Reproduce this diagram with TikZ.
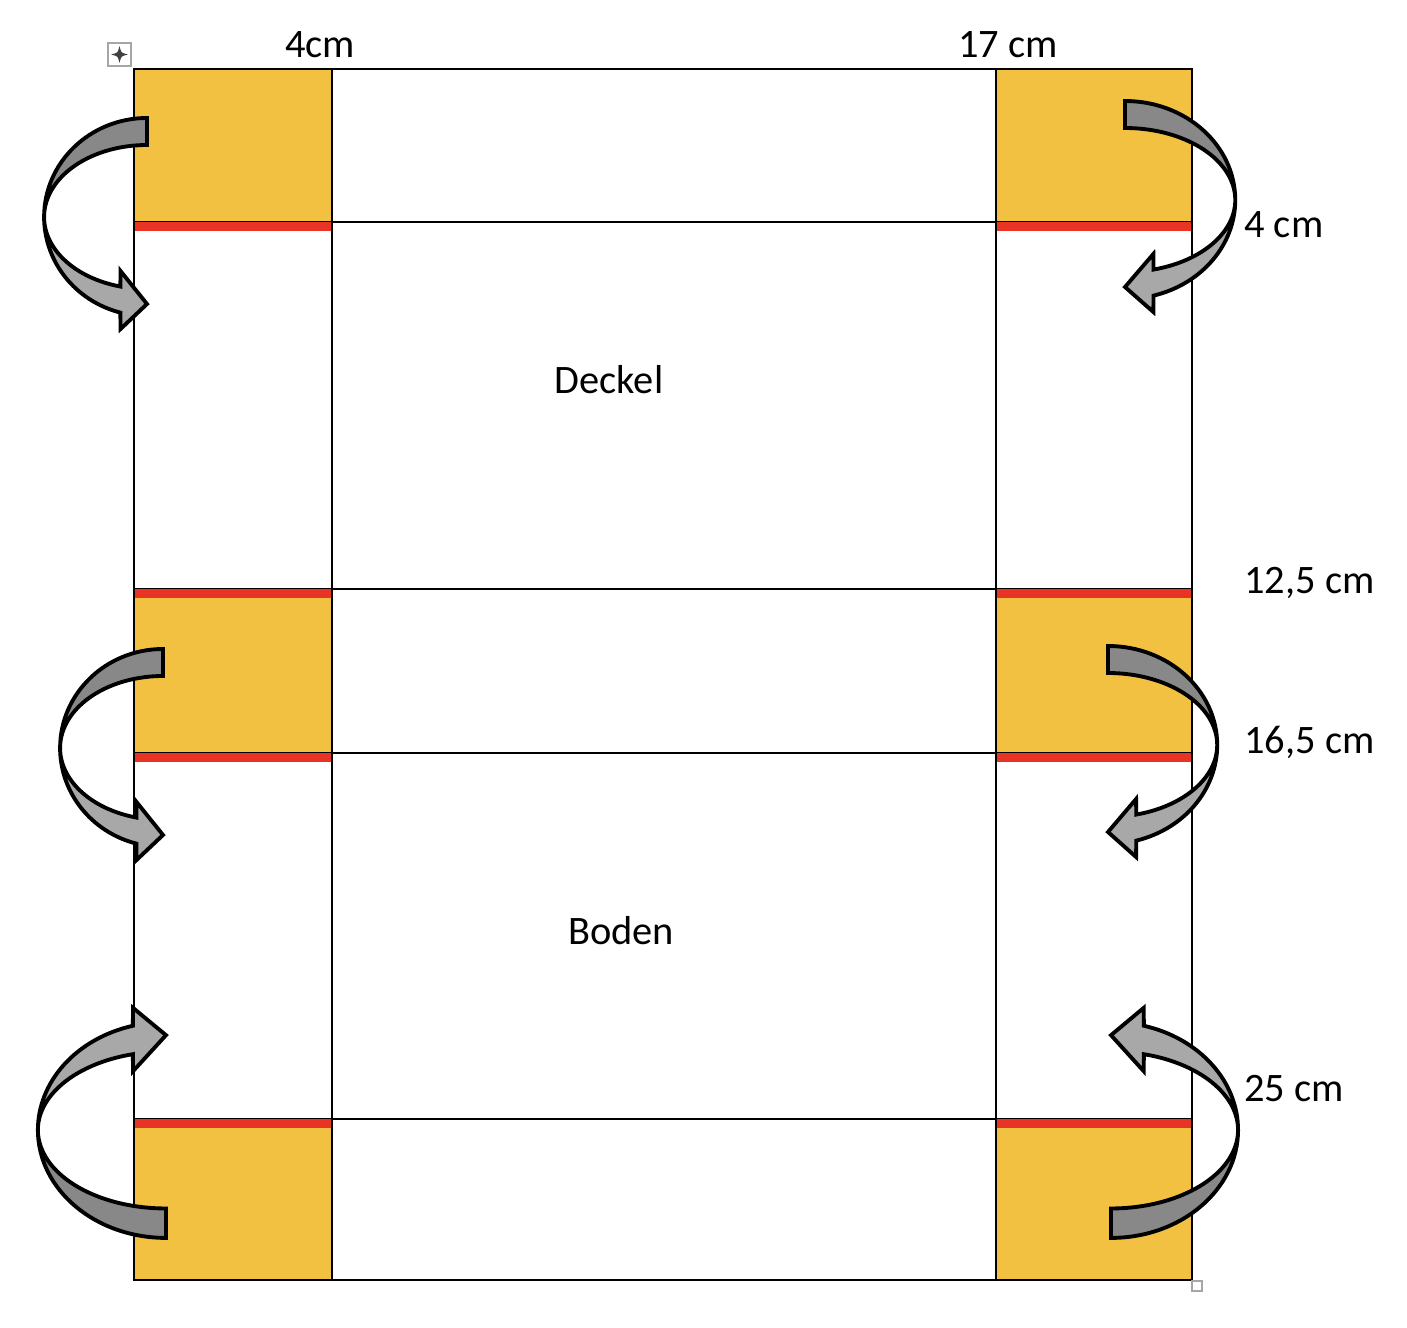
\documentclass[tikz,border=0pt]{standalone}
\usepackage{fontspec}
\setmainfont{Carlito}
\definecolor{flapyellow}{RGB}{242,193,65}
\definecolor{cutred}{RGB}{232,52,36}
\definecolor{arrowdark}{RGB}{136,136,136}
\definecolor{arrowlight}{RGB}{168,168,168}
\begin{document}
\begin{tikzpicture}
        [
            x = 0.02cm, y = -0.02cm,
            gridline/.style    = {draw, line width=1.1pt},
            flap/.style        = {fill=flapyellow},
            cutline/.style     = {fill=cutred},
            handle/.style      = {draw=gray!70, fill=white, line width=0.8pt},
            handlearrow/.style = {latex-latex, line width=0.7pt, draw=darkgray},
            dimtext/.style     = {inner sep=0pt, font=\fontsize{23}{27}\selectfont},
            foldarrow/.pic     = {
                \fill[arrowdark] (0,-99) arc[start angle=-90, end angle=-180, x radius=105, y radius=99]
                    arc[start angle=-180, end angle=-90, x radius=105, y radius=72] -- cycle;
                \fill[arrowlight] (-105,0) arc[start angle=-180, end angle=-255, x radius=105, y radius=99]
                    -- (-27,112) -- (0,87) -- (-27,54) -- (-255:105 and 72)
                    arc[start angle=-255, end angle=-180, x radius=105, y radius=72] -- cycle;
                \draw[line width=2.2pt] (0,-99) arc[start angle=-90, end angle=-255, x radius=105, y radius=99]
                    -- (-27,112) -- (0,87) -- (-27,54) -- (-255:105 and 72)
                    arc[start angle=-255, end angle=-90, x radius=105, y radius=72] -- cycle;
            },
        ]
        \useasboundingbox (0,0) rectangle (1407,1328);
        % flaps
        \foreach \ya/\yb in {69/222, 589/753, 1119/1280} {
            \fill[flap] (134,\ya) rectangle (332,\yb);
            \fill[flap] (996,\ya) rectangle (1192,\yb);
        }
        \draw[gridline] (134,69) rectangle (1192,1280);
        \foreach \x in {332, 996}
            \draw[gridline] (\x,69) -- (\x,1280);
        \foreach \y in {222, 589, 753, 1119}
            \draw[gridline] (134,\y) -- (1192,\y);
        % cut lines
        \foreach \y in {222, 589, 753, 1119} {
            \fill[cutline] (135,\y) rectangle (331,\y+9);
            \fill[cutline] (997,\y) rectangle (1191,\y+9);
        }
        % fold arrows
        \pic[xscale=0.98] at (147,217) {foldarrow};
        \pic[xscale=0.98] at (163,748) {foldarrow};
        \pic[xscale=-1.05] at (1125,200) {foldarrow};
        \pic[xscale=-1.04] at (1108,745) {foldarrow};
        \pic[xscale=1.22, yscale=-1.09] at (166,1130) {foldarrow};
        \pic[xscale=-1.21, yscale=-1.09] at (1111,1130) {foldarrow};
        % handles
        \draw[handle] (108,43) rectangle (131,66);
        \draw[handlearrow] (111,54.5) -- (128,54.5);
        \draw[handlearrow] (119.5,46) -- (119.5,63);
        \draw[handle] (1192,1281) rectangle (1202,1291);
        % labels
        \node[dimtext, anchor=base] (flapwidth) at (320,58) {4cm};
        \node[dimtext, anchor=base] (midwidth) at (1008,58) {17 cm};
        \node[dimtext, anchor=base west] (mark1) at (1244,237) {4 cm};
        \node[dimtext, anchor=base west] (mark2) at (1244,593) {12,5 cm};
        \node[dimtext, anchor=base west] (mark3) at (1244,753) {16,5 cm};
        \node[dimtext, anchor=base west] (mark4) at (1244,1101) {25 cm};
        \node[dimtext, anchor=base] (deckel) at (609,393) {Deckel};
        \node[dimtext, anchor=base] (boden) at (621,944) {Boden};
    \end{tikzpicture}
\end{document}
